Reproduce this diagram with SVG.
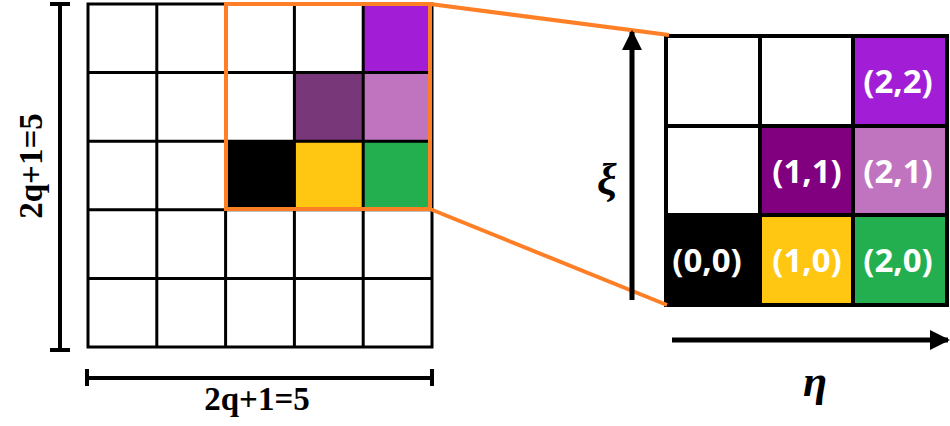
<svg xmlns="http://www.w3.org/2000/svg" width="950" height="426" viewBox="0 0 950 426">
<defs>
<style>
.g{stroke:#000;stroke-width:3;fill:none}
.rc{stroke:#000;stroke-width:4}
.lbl{font-family:"Open Sans","Liberation Sans",sans-serif;font-weight:bold;font-size:33px;fill:#fff;text-anchor:middle}
.dim{font-family:"Liberation Serif","Times New Roman",serif;font-weight:bold;font-size:33px;fill:#000;text-anchor:middle}
.greek{font-family:"Liberation Serif","DejaVu Serif",serif;font-weight:bold;font-style:italic;font-size:44px;fill:#000;text-anchor:middle}
.orange{stroke:#FF7F27;stroke-width:4;fill:none}
.ax{stroke:#000;stroke-width:5;fill:none}
.dl{stroke:#000;stroke-width:4;fill:none}
</style>
<marker id="ah" viewBox="0 0 10 10" refX="9" refY="5" markerWidth="4" markerHeight="4" orient="auto" markerUnits="strokeWidth">
<path d="M0,0 L10,5 L0,10 z" fill="#000"/>
</marker>
</defs>
<rect width="950" height="426" fill="#fff"/>

<g id="left-grid">
<rect x="363.2" y="4" width="68.8" height="68.6" fill="#A21ED6"/>
<rect x="294.4" y="72.6" width="68.8" height="68.6" fill="#783779"/>
<rect x="363.2" y="72.6" width="68.8" height="68.6" fill="#C074C0"/>
<rect x="225.6" y="141.2" width="68.8" height="68.6" fill="#000"/>
<rect x="294.4" y="141.2" width="68.8" height="68.6" fill="#FFC711"/>
<rect x="363.2" y="141.2" width="68.8" height="68.6" fill="#23AF4F"/>
<path class="g" d="M88,4H432V347H88Z M156.8,4V347 M225.6,4V347 M294.4,4V347 M363.2,4V347 M88,72.6H432 M88,141.2H432 M88,209.8H432 M88,278.4H432"/>
</g>

<g id="zoom-box">
<rect class="orange" x="226" y="4" width="204" height="205"/>
</g>

<g id="right-grid">
<rect x="853" y="36" width="94" height="90" fill="#A21ED6"/>
<rect x="760" y="126" width="93" height="89" fill="#800080"/>
<rect x="853" y="126" width="94" height="89" fill="#C074C0"/>
<rect x="666" y="215" width="94" height="90" fill="#000"/>
<rect x="760" y="215" width="93" height="90" fill="#FFC711"/>
<rect x="853" y="215" width="94" height="90" fill="#23AF4F"/>
<path class="rc" fill="none" d="M666,36H947V305H666Z M760,36V305 M853,36V305 M666,126H947 M666,215H947"/>
<text class="lbl" x="898" y="93">(2,2)</text>
<text class="lbl" x="807" y="183">(1,1)</text>
<text class="lbl" x="898" y="183">(2,1)</text>
<text class="lbl" x="707" y="272">(0,0)</text>
<text class="lbl" x="807" y="272">(1,0)</text>
<text class="lbl" x="898" y="272">(2,0)</text>
</g>

<g id="connectors">
<line class="orange" x1="430" y1="4" x2="669" y2="35"/>
<line class="orange" x1="430" y1="209" x2="667" y2="305"/>
<line class="ax" x1="632" y1="300" x2="632" y2="32" marker-end="url(#ah)"/>
<line class="ax" x1="672" y1="340" x2="948" y2="340" marker-end="url(#ah)"/>
<path class="dl" d="M60,4V350 M50,4H70 M50,350H70"/>
<path class="dl" d="M87,378H432 M87,369V386 M432,369V386"/>
</g>

<g id="labels">
<text class="dim" transform="translate(42,166) rotate(-90)">2q+1=5</text>
<text class="dim" x="257" y="410">2q+1=5</text>
<text class="greek" x="607" y="194">ξ</text>
<text class="greek" x="815" y="396">η</text>
</g>
</svg>
